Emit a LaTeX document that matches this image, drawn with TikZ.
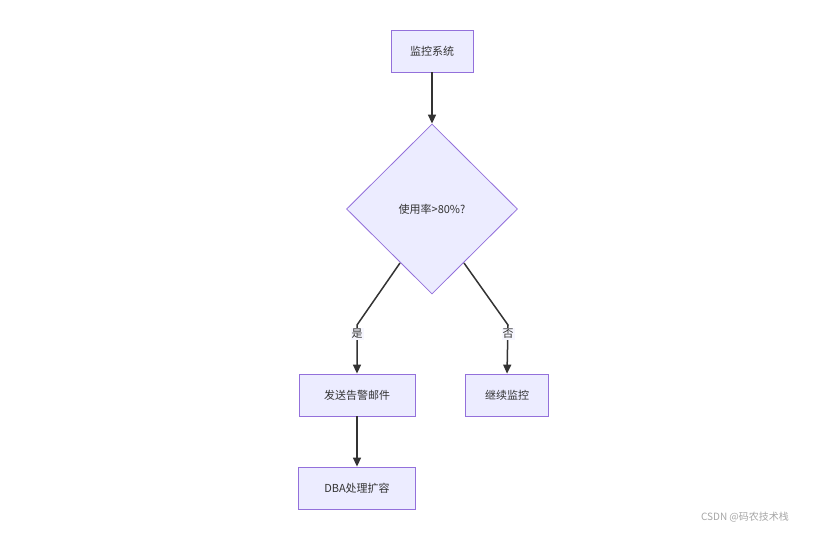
\documentclass[tikz,border=0pt]{standalone}
\usepackage{fontspec}
\setmainfont{Noto Sans CJK SC}
\usetikzlibrary{shapes.geometric,arrows.meta}
\definecolor{nfill}{HTML}{ECECFF}
\definecolor{nline}{HTML}{9370DB}
\definecolor{eline}{HTML}{333333}
\begin{document}
\begin{tikzpicture}[x=1pt,y=-1pt,
  box/.style={draw=nline,fill=nfill,line width=0.8pt,minimum height=42pt,inner sep=0pt,font=\fontsize{11}{13}\selectfont,text=eline},
  dia/.style={draw=nline,fill=nfill,line width=0.8pt,diamond,minimum width=171pt,minimum height=170pt,inner sep=0pt,font=\fontsize{11}{13}\selectfont,text=eline},
  edge/.style={draw=eline,line width=1.5pt,-{Triangle[length=9pt,width=8pt]}},
  lab/.style={fill=nfill!40!white,inner sep=1pt,font=\fontsize{11}{13}\selectfont,text=eline}]
\useasboundingbox (0,0) rectangle (835,533);
\node[box,minimum width=82pt] (a) at (432,51) {监控系统};
\node[dia] (b) at (432,209) {使用率>80\%?};
\node[box,minimum width=116pt] (c) at (357,395) {发送告警邮件};
\node[box,minimum width=83pt] (d) at (507,395) {继续监控};
\node[box,minimum width=117pt] (e) at (357,488) {DBA处理扩容};
\coordinate (b1) at (400,263);
\coordinate (b2) at (464,263);
\coordinate (k1) at (357,325);
\coordinate (k2) at (508,325);
\draw[edge] (a) -- (b.north);
\draw[edge] (b1) -- (k1) -- (c.north);
\draw[edge] (b2) -- (k2) -- (d.north);
\draw[edge] (c) -- (e);
\node[lab] (y) at (357,334) {是};
\node[lab] (n) at (508,334) {否};
\node[text=gray!70,font=\fontsize{10}{12}\selectfont] (w) at (745,517) {CSDN @码农技术栈};
\end{tikzpicture}
\end{document}
